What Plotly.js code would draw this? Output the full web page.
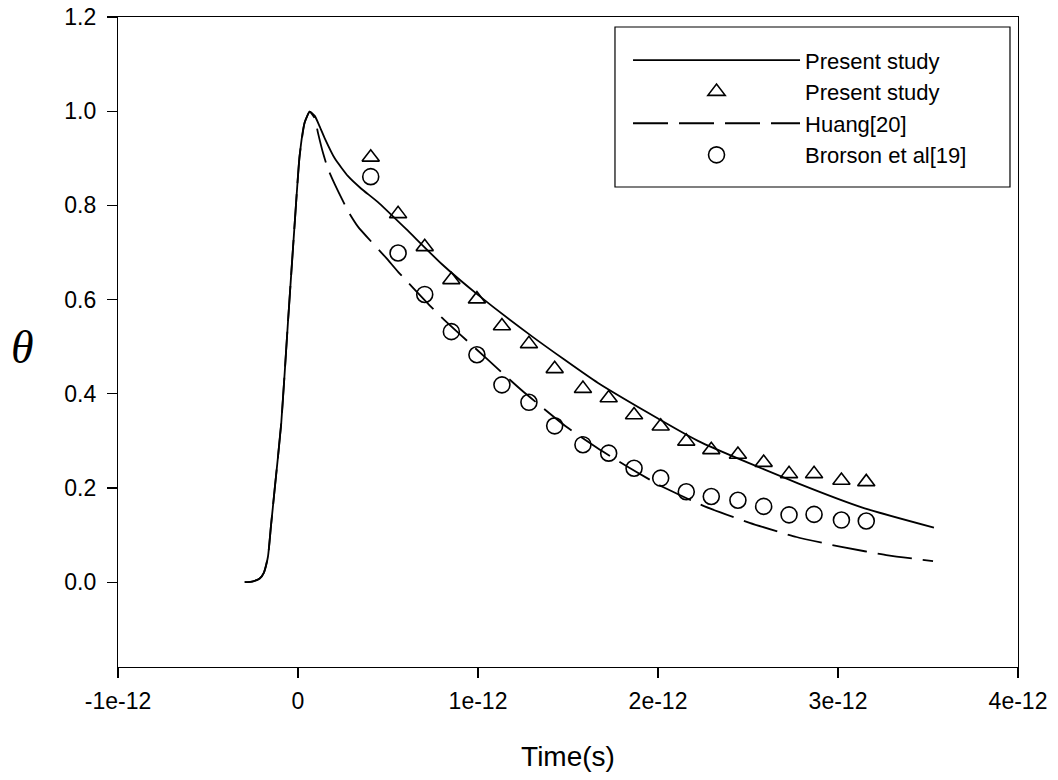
<!DOCTYPE html>
<html>
<head>
<meta charset="utf-8">
<script src="https://cdn.plot.ly/plotly-3.0.1.min.js"></script>
<style>html,body{margin:0;padding:0;background:#fff;}#chart{width:1058px;height:780px;}</style>
</head>
<body>
<div id="chart"></div>
<script>
// Time values in picoseconds (converted to seconds below)
var presentLineT = [-0.296,-0.25,-0.213,-0.19,-0.167,-0.15,-0.13,-0.093,-0.056,-0.018,0.009,0.037,0.065,0.093,0.12,0.148,0.204,0.278,0.35,0.444,0.6,0.8,1.0,1.3,1.667,2.222,2.778,3.148,3.533];
var presentLineY = [0.0,0.002,0.008,0.02,0.054,0.12,0.196,0.338,0.551,0.764,0.905,0.976,0.999,0.99,0.968,0.943,0.9,0.862,0.836,0.807,0.75,0.675,0.61,0.522,0.423,0.30,0.21,0.157,0.116];

var huangT = [-0.296,-0.25,-0.213,-0.19,-0.167,-0.15,-0.13,-0.093,-0.056,-0.018,0.009,0.037,0.065,0.093,0.111,0.14,0.167,0.204,0.278,0.333,0.491,0.556,0.731,0.796,1.056,1.241,1.491,1.667,1.815,2.009,2.259,2.509,2.769,3.019,3.278,3.528];
var huangY = [0.0,0.002,0.008,0.02,0.054,0.12,0.196,0.338,0.551,0.764,0.905,0.976,0.999,0.985,0.954,0.91,0.877,0.845,0.788,0.755,0.688,0.659,0.588,0.563,0.472,0.408,0.33,0.284,0.249,0.206,0.161,0.126,0.096,0.075,0.057,0.045];

var pointT = [0.404,0.556,0.704,0.852,0.994,1.133,1.283,1.426,1.583,1.726,1.867,2.015,2.157,2.296,2.444,2.587,2.728,2.867,3.019,3.157];
var presentPtsY = [0.902,0.782,0.712,0.642,0.601,0.544,0.506,0.453,0.411,0.391,0.355,0.331,0.299,0.281,0.271,0.254,0.230,0.230,0.216,0.213];
var brorsonY = [0.861,0.699,0.611,0.532,0.483,0.419,0.382,0.332,0.292,0.274,0.242,0.221,0.192,0.182,0.174,0.161,0.143,0.144,0.132,0.130];

var xTickVals = [-1e-12,0,1e-12,2e-12,3e-12,4e-12];
var xTickText = ["-1e-12","0","1e-12","2e-12","3e-12","4e-12"];
var yTickVals = [0,0.2,0.4,0.6,0.8,1.0,1.2];
var yTickText = ["0.0","0.2","0.4","0.6","0.8","1.0","1.2"];

function ps(a){ return a.map(function(v){ return v*1e-12; }); }

var traces = [
  {x: ps(presentLineT), y: presentLineY, mode:'lines', name:'Present study',
   line:{color:'#000', width:1.8, shape:'spline', smoothing:0.5}},
  {x: ps(pointT), y: presentPtsY, mode:'markers', name:'Present study',
   marker:{symbol:'triangle-up-open', size:15, color:'#000', line:{width:1.6, color:'#000'}}},
  {x: ps(huangT), y: huangY, mode:'lines', name:'Huang[20]',
   line:{color:'#000', width:1.8, dash:'35px,11px', shape:'spline', smoothing:0.5}},
  {x: ps(pointT), y: brorsonY, mode:'markers', name:'Brorson et al[19]',
   marker:{symbol:'circle-open', size:16, color:'#000', line:{width:1.6, color:'#000'}}}
];

var axisFont = {family:'Arial, "Liberation Sans", sans-serif', size:23, color:'#000'};

var layout = {
  width:1058, height:780,
  margin:{l:118, r:40, t:17, b:113},
  paper_bgcolor:'#fff', plot_bgcolor:'#fff',
  showlegend:true,
  legend:{x:0.5667, y:0.9658, xanchor:'left', yanchor:'top', bgcolor:'rgba(0,0,0,0)', borderwidth:0,
          font:{family:'Arial, "Liberation Sans", sans-serif', size:22, color:'#000'},
          itemwidth:167, tracegroupgap:0},
  xaxis:{range:[-1e-12,4e-12], tickvals:xTickVals, ticktext:xTickText, ticks:'outside', ticklen:10, tickwidth:1.2,
         tickcolor:'#000', showline:true, linecolor:'#000', linewidth:1.2, mirror:true, showgrid:false, zeroline:false,
         tickfont:axisFont, ticklabelstandoff:3,
         title:{text:'Time(s)', font:{family:'Arial, "Liberation Sans", sans-serif', size:28, color:'#000'}, standoff:33}},
  yaxis:{range:[-0.18,1.2], tickvals:yTickVals, ticktext:yTickText, ticks:'outside', ticklen:10, tickwidth:1.2,
         tickcolor:'#000', showline:true, linecolor:'#000', linewidth:1.2, mirror:true, showgrid:false, zeroline:false,
         tickfont:axisFont, ticklabelstandoff:6},
  shapes:[{type:'rect', xref:'paper', yref:'paper', x0:0.5522, x1:0.9911, y0:0.7385, y1:0.9846,
           line:{color:'#000', width:1.2}, fillcolor:'rgba(0,0,0,0)', layer:'above'}],
  annotations:[{xref:'paper', yref:'paper', x:-0.1056, y:0.4908, xanchor:'center', yanchor:'middle', showarrow:false,
                text:'<i>θ</i>', font:{family:'"Liberation Serif", "Times New Roman", serif', size:46, color:'#000'}}]
};

Plotly.newPlot('chart', traces, layout, {displayModeBar:false, staticPlot:true});
</script>
</body>
</html>
